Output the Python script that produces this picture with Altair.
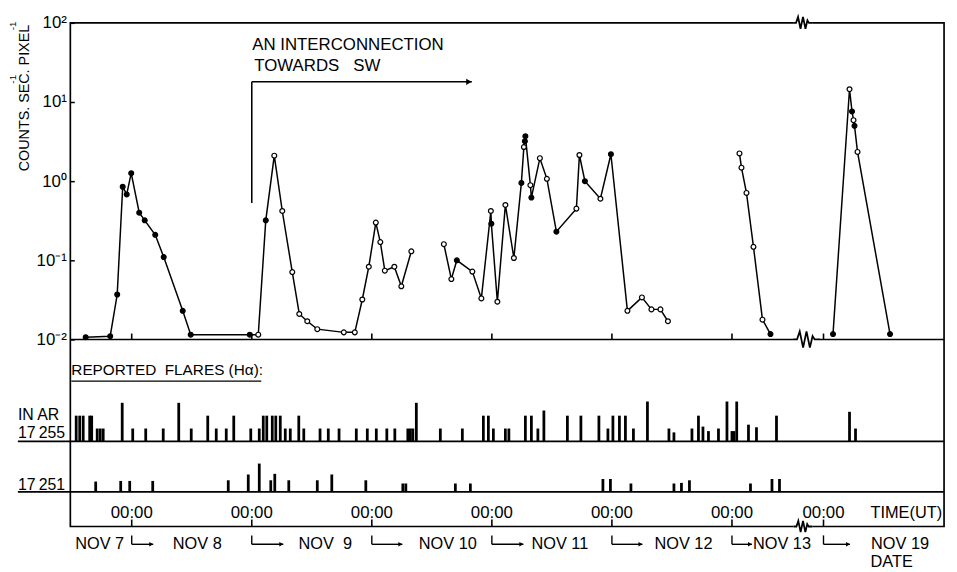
import altair as alt
import pandas as pd

FONT = "Liberation Sans, Arial, Helvetica, sans-serif"

# hours since Nov 7 00:00 UT; the axis is broken between Nov 13 ~14h and Nov 18 ~20h
GAP = 125.7
def ax(h):
    return round(h - GAP, 2) if h > 200 else h

# ---------------- X-ray time profile (counts s^-1 pixel^-1) ----------------
seg1_t = [14.8, 19.7, 21.1, 22.2, 23.0, 23.9, 25.5, 26.6, 28.7, 30.4, 34.2, 35.8,
          47.6, 49.3, 50.8, 52.5, 54.1, 56.1, 57.5, 59.1, 61.1, 66.4, 68.6, 70.1,
          71.4, 72.8, 73.7, 74.6, 76.5, 77.9, 79.9]
seg1_v = [0.0107, 0.011, 0.037, 0.85, 0.68, 1.26, 0.40, 0.32, 0.21, 0.11, 0.023, 0.0115,
          0.0115, 0.0115, 0.32, 2.1, 0.42, 0.071, 0.021, 0.017, 0.0135, 0.0123, 0.0123, 0.032,
          0.083, 0.30, 0.17, 0.074, 0.083, 0.047, 0.13]
seg1_f = list("ffffffffffff") + list("fofoooooooooooooooo")

seg2_t = [86.4, 87.9, 89.0, 92.1, 93.9, 95.8, 95.9, 97.1, 98.7, 100.4, 101.9, 102.4,
          102.6, 102.7, 103.7, 103.9, 105.6, 107.0, 108.9, 112.9, 113.5, 114.6, 117.7,
          119.8, 123.1, 126.0, 127.9, 129.7, 131.2]
seg2_v = [0.16, 0.058, 0.10, 0.072, 0.033, 0.42, 0.29, 0.030, 0.50, 0.107, 0.95, 2.7,
          3.2, 3.7, 0.89, 0.62, 1.95, 1.07, 0.23, 0.45, 2.14, 1.0, 0.60,
          2.19, 0.023, 0.034, 0.024, 0.024, 0.017]
seg2_f = list("oofooofooofoffofoofoofofooooo")

seg3_t = [145.5, 145.9, 146.9, 148.3, 150.1, 151.7]
seg3_v = [2.24, 1.48, 0.71, 0.148, 0.0178, 0.0117]
seg3_f = list("ooooof")

seg4_t = [289.9, 293.2, 293.7, 294.0, 294.2, 294.8, 301.3]
seg4_v = [0.0117, 14.5, 7.6, 5.9, 5.0, 2.34, 0.0117]
seg4_f = list("fofofof")

# ---------------- reported H-alpha flares (time, relative importance) ----------------
ar17255_t = [12.9, 13.6, 14.3, 15.6, 16.0, 17.1, 17.7, 18.3, 22.1, 24.2, 26.8, 30.3, 33.4,
             35.9, 39.2, 40.9, 42.9, 44.4, 47.8, 49.5, 50.3, 51.0, 52.1, 52.8, 53.7, 54.7,
             55.7, 57.4, 58.4, 61.65, 63.3, 65.45, 68.9, 71.1, 72.9, 75.0, 76.6, 79.2, 79.7,
             80.2, 80.9, 85.7, 90.1, 94.3, 95.3, 96.3, 98.7, 99.4, 102.7, 103.9, 105.2, 106.4,
             111.1, 113.8, 117.4, 119.2, 120.2, 121.5, 122.7, 124.3, 127.1, 131.4, 132.4,
             136.0, 137.3, 138.2, 139.3, 141.3, 143.0, 144.0, 144.4, 144.95, 147.3, 148.9,
             152.9, 293.2, 294.4]
ar17255_s = [2, 2, 2, 2, 2, 1, 1, 1, 3, 1, 1, 1, 3,
             1, 2, 1, 1, 2, 1, 1, 2, 2, 2, 2, 2, 1,
             1, 2, 1, 1, 1, 1, 1, 1, 1, 1, 1, 1, 1,
             1, 3, 1, 1, 2, 2, 1, 1, 1, 2, 2, 1, 2.4,
             2, 2, 2, 1, 2, 2, 2, 1, 3.1, 1, 0.7,
             1, 2, 1.15, 0.8, 1, 3.1, 0.8, 0.8, 3.1, 1.3, 1.1,
             2, 2.3, 1]
ar17251_t = [16.8, 21.8, 23.6, 28.2, 43.3, 47.3, 49.5, 51.8, 52.6, 55.4, 61.1, 64.0, 70.8,
             78.2, 78.8, 88.7, 91.7, 118.2, 119.7, 123.8, 132.4, 133.9, 135.5, 147.7,
             152.0, 153.5]
ar17251_s = [0.8, 0.85, 0.85, 0.85, 0.9, 1.35, 2.2, 0.9, 1.4, 0.9, 0.9, 1.35, 0.9,
             0.65, 0.65, 0.65, 0.65, 1.0, 1.0, 0.65, 0.65, 0.7, 0.9, 0.65,
             1.0, 1.0]

midnights = [24, 48, 72, 96, 120, 144, 288]
arrow_len = [4.3, 6.3, 6.1, 6.3, 6.1, 4.0, 5.3]
date_labels = ["NOV 7", "NOV 8", "NOV\u00a0 9", "NOV 10", "NOV 11", "NOV 12", "NOV 13", "NOV 19"]
date_pos = [17.6, 37.1, 62.7, 87.2, 109.6, 134.3, 154.0, 303.3]

annot_text = ["AN INTERCONNECTION", "TOWARDS\u00a0\u00a0 SW"]
annot_t = [48.1, 48.5]
annot_v = [53.0, 28.5]
bracket = {"start": 48.0, "end": 92.0, "level": 18.0, "foot": 0.53}

BREAK_MID = 158.9
BREAK_EDGE = 158.2
X0, X1 = 11.73, 186.4

# ---------------- tables ----------------
rows = []
for name, ts, vs, fs in [("a", seg1_t, seg1_v, seg1_f), ("b", seg2_t, seg2_v, seg2_f),
                         ("c", seg3_t, seg3_v, seg3_f), ("d", seg4_t, seg4_v, seg4_f)]:
    for t, v, f in zip(ts, vs, fs):
        rows.append({"x": ax(t), "v": v, "f": f, "seg": name})
pts = pd.DataFrame(rows)

fl1 = pd.DataFrame({"x": [ax(t) for t in ar17255_t], "s": ar17255_s, "b": 0})
fl2 = pd.DataFrame({"x": [ax(t) for t in ar17251_t], "s": ar17251_s, "b": 0})
mid = pd.DataFrame({"x": [ax(t) for t in midnights],
                    "x2": [ax(t) + l for t, l in zip(midnights, arrow_len)],
                    "t": "00:00"})
dates = pd.DataFrame({"x": [ax(t) for t in date_pos], "t": date_labels})
ann = pd.DataFrame({"x": annot_t, "v": annot_v, "t": annot_text})
br = pd.DataFrame([bracket])
sep = pd.DataFrame({"a": [X0, 161.3], "b": [156.6, X1]})
brk = pd.DataFrame({"x": [BREAK_EDGE]})
brk_mid = pd.DataFrame({"x": [BREAK_MID]})
one = pd.DataFrame({"k": [0]})

X = alt.Scale(domain=[X0, X1], nice=False, zero=False)
LOG = alt.Scale(type="log", domain=[0.01, 100], range=[320, 0], nice=False)
R1 = alt.Scale(domain=[0, 3], range=[423, 384], nice=False, zero=False)
R2 = alt.Scale(domain=[0, 3], range=[474, 435], nice=False, zero=False)

def xq(f):
    return alt.X(f, scale=X, axis=None)

yaxis = alt.Axis(values=[0.01, 0.1, 1, 10, 100],
                 labelExpr="datum.value > 50 ? '10²' : datum.value > 5 ? '10¹' : datum.value > 0.5 ? '10⁰' : datum.value > 0.05 ? '10⁻¹' : '10⁻²'",
                 title=None, domain=False, ticks=True, tickSize=4, tickColor="black",
                 tickWidth=1.5, offset=-4, labelPadding=4, labelFont=FONT,
                 labelFontSize=17, labelColor="black", grid=False)

layers = []

# structural lines
layers.append(alt.Chart(sep).mark_rule(color="black", strokeWidth=1.7).encode(
    x=xq("a:Q"), x2="b:Q", y=alt.value(320)))
layers.append(alt.Chart(one).mark_rule(color="black", strokeWidth=1.6).encode(
    x=alt.value(-53), x2=alt.value(883), y=alt.value(423)))
layers.append(alt.Chart(one).mark_rule(color="black", strokeWidth=1.6).encode(
    x=alt.value(-53), x2=alt.value(883), y=alt.value(474)))
layers.append(alt.Chart(one).mark_rule(color="black", strokeWidth=1.3).encode(
    x=alt.value(1), x2=alt.value(193), y=alt.value(362)))
layers.append(alt.Chart(mid).mark_rule(color="black", strokeWidth=1.6).encode(
    x=xq("x:Q"), y=alt.value(314), y2=alt.value(320)))
layers.append(alt.Chart(mid).mark_rule(color="black", strokeWidth=1.6).encode(
    x=xq("x:Q"), y=alt.value(502), y2=alt.value(509)))

# axis breaks
zig = "M-1,0L-0.7,0L-0.5,-0.6L-0.25,0.6L0,-0.6L0.25,0.6L0.45,-0.25L0.6,0L1,0"
mask = "M-1,-0.3L1,-0.3L1,0.3L-1,0.3Z"
for yy, data, sz in [(0, brk, 400), (509, brk, 360), (320, brk_mid, 750)]:
    layers.append(alt.Chart(data).mark_point(shape=mask, filled=True, fill="white",
                                             strokeWidth=0, opacity=1, size=sz).encode(
        x=xq("x:Q"), y=alt.value(yy)))
    layers.append(alt.Chart(data).mark_point(shape=zig, filled=False, stroke="black",
                                             strokeWidth=1.8, opacity=1, size=sz).encode(
        x=xq("x:Q"), y=alt.value(yy)))

# profile
layers.append(alt.Chart(pts).mark_line(color="black", strokeWidth=1.5).encode(
    x=xq("x:Q"), y=alt.Y("v:Q", scale=LOG, axis=yaxis), detail="seg:N"))
layers.append(alt.Chart(pts).mark_point(shape="circle", filled=True, size=24, stroke="black",
                                        strokeWidth=1.2, opacity=1).encode(
    x=xq("x:Q"), y=alt.Y("v:Q", scale=LOG, axis=None),
    fill=alt.Fill("f:N", scale=alt.Scale(domain=["f", "o"], range=["black", "white"]), legend=None)))

# interconnection bracket
layers.append(alt.Chart(br).mark_rule(color="black", strokeWidth=1.6).encode(
    x=xq("start:Q"), y=alt.Y("level:Q", scale=LOG, axis=None), y2="foot:Q"))
layers.append(alt.Chart(br).mark_rule(color="black", strokeWidth=1.6).encode(
    x=xq("start:Q"), x2="end:Q", y=alt.Y("level:Q", scale=LOG, axis=None)))
layers.append(alt.Chart(br).mark_point(shape="triangle-right", filled=True, color="black",
                                       size=40, opacity=1, xOffset=-3).encode(
    x=xq("end:Q"), y=alt.Y("level:Q", scale=LOG, axis=None)))
layers.append(alt.Chart(ann).mark_text(align="left", font=FONT, fontSize=17, color="black").encode(
    x=xq("x:Q"), y=alt.Y("v:Q", scale=LOG, axis=None), text="t:N"))

# flares
layers.append(alt.Chart(fl1).mark_rule(color="black", strokeWidth=2.8, strokeCap="butt").encode(
    x=xq("x:Q"), y=alt.Y("s:Q", scale=R1, axis=None), y2="b:Q"))
layers.append(alt.Chart(fl2).mark_rule(color="black", strokeWidth=2.8, strokeCap="butt").encode(
    x=xq("x:Q"), y=alt.Y("s:Q", scale=R2, axis=None), y2="b:Q"))

# time axis labels and date arrows
layers.append(alt.Chart(mid).mark_text(font=FONT, fontSize=17, color="black").encode(
    x=xq("x:Q"), y=alt.value(495), text="t:N"))
layers.append(alt.Chart(mid).mark_rule(color="black", strokeWidth=1.4).encode(
    x=xq("x:Q"), y=alt.value(518), y2=alt.value(527)))
layers.append(alt.Chart(mid).mark_rule(color="black", strokeWidth=1.4).encode(
    x=xq("x:Q"), x2="x2:Q", y=alt.value(527)))
layers.append(alt.Chart(mid).mark_point(shape="triangle-right", filled=True, color="black",
                                        size=22, opacity=1, xOffset=-2).encode(
    x=xq("x2:Q"), y=alt.value(527)))
layers.append(alt.Chart(dates).mark_text(font=FONT, fontSize=16.5, color="black").encode(
    x=xq("x:Q"), y=alt.value(527), text="t:N"))
layers.append(alt.Chart(one).mark_text(font=FONT, fontSize=16.5, color="black").encode(
    x=alt.value(830), y=alt.value(545), text=alt.value("DATE")))
layers.append(alt.Chart(one).mark_text(font=FONT, fontSize=16.5, color="black", align="right").encode(
    x=alt.value(881), y=alt.value(495), text=alt.value("TIME(UT)")))

# left-hand texts
layers.append(alt.Chart(one).mark_text(font=FONT, fontSize=15.5, color="black", align="left").encode(
    x=alt.value(1), y=alt.value(351), text=alt.value("REPORTED\u00a0 FLARES (H\u03b1):")))
layers.append(alt.Chart(one).mark_text(font=FONT, fontSize=16, color="black", align="left").encode(
    x=alt.value(-53), y=alt.value(396), text=alt.value("IN AR")))
layers.append(alt.Chart(one).mark_text(font=FONT, fontSize=16, color="black", align="left").encode(
    x=alt.value(-53), y=alt.value(415), text=alt.value("17\u2009255")))
layers.append(alt.Chart(one).mark_text(font=FONT, fontSize=16, color="black", align="left").encode(
    x=alt.value(-53), y=alt.value(467), text=alt.value("17\u2009251")))
layers.append(alt.Chart(one).mark_text(font=FONT, fontSize=14.5, color="black", angle=270).encode(
    x=alt.value(-46), y=alt.value(76), text=alt.value("COUNTS. SEC. PIXEL")))
layers.append(alt.Chart(one).mark_text(font=FONT, fontSize=10, color="black", angle=270).encode(
    x=alt.value(-58), y=alt.value(57), text=alt.value("-1")))
layers.append(alt.Chart(one).mark_text(font=FONT, fontSize=10, color="black", angle=270).encode(
    x=alt.value(-58), y=alt.value(3), text=alt.value("-1")))

chart = alt.layer(*layers).resolve_scale(y="independent").properties(
    width=883, height=509,
    padding={"left": 63, "top": 12, "right": 5, "bottom": 44},
    autosize=alt.AutoSizeParams(type="none"),
).configure_view(stroke="black", strokeWidth=1.7)

chart.save("out.html", embed_options={"renderer": "svg", "actions": False})
